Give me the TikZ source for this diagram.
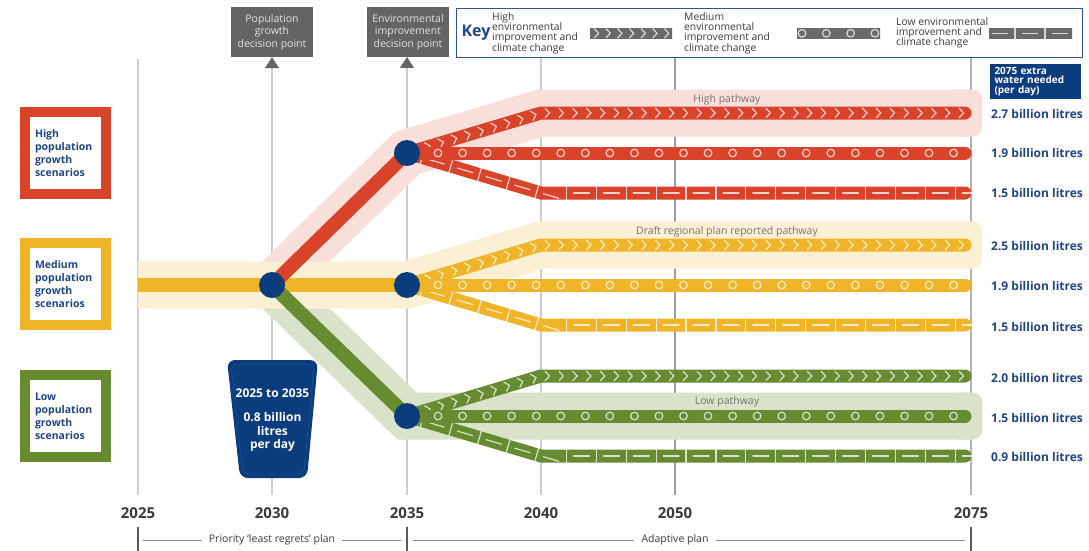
\documentclass[tikz,border=0pt]{standalone}
\usepackage{fontspec}
\setmainfont{Open Sans}
\usetikzlibrary{arrows.meta,decorations.markings,positioning}

\definecolor{popred}{HTML}{D9432A}
\definecolor{popredlt}{HTML}{F8DFDA}
\definecolor{popyel}{HTML}{F0B429}
\definecolor{popyellt}{HTML}{FBF0D4}
\definecolor{popgrn}{HTML}{668B30}
\definecolor{popgrnlt}{HTML}{D8E3C9}
\definecolor{navy}{HTML}{0B3C7E}
\definecolor{navytext}{HTML}{1F4585}
\definecolor{keyblue}{HTML}{2E5597}
\definecolor{gridgray}{HTML}{CDCDCD}
\definecolor{boxgray}{HTML}{646464}
\definecolor{boxtext}{HTML}{E2E2E2}
\definecolor{keygray}{HTML}{6A6A6A}
\definecolor{labelgray}{HTML}{3A3A3A}

\tikzset{
  grid line/.style={gridgray, line width=1.1pt},
  band/.style={line width=47pt, line join=miter},
  trunk/.style={line width=14pt},
  branch/.style={line width=13pt, line cap=round},
  mark line/.style={white, line width=1.2pt, opacity=0.75},
  chevrons/.style 2 args={postaction={decorate, decoration={markings,
      mark=between positions #1 and -3pt step #2 with
      {\draw[mark line] (-2.8pt,4.7pt) -- (1.6pt,0pt) -- (-2.8pt,-4.7pt);}}}},
  rings/.style 2 args={postaction={decorate, decoration={markings,
      mark=between positions #1 and -3pt step #2 with
      {\draw[mark line] (0pt,0pt) circle[radius=3.8pt];}}}},
  dashes/.style 2 args={postaction={decorate, decoration={markings,
      mark=between positions #1 and -3pt step #2 with
      {\draw[mark line] (0pt,-6.5pt) -- (0pt,6.5pt);
       \draw[mark line] (7pt,0pt) -- (23pt,0pt);}}}},
  hub/.style={circle, fill=navy, minimum size=26pt, inner sep=0pt},
  decision/.style={fill=boxgray, text=boxtext, minimum width=82pt,
    minimum height=50pt, align=center, inner sep=1pt,
    font=\fontsize{10.5}{12.7}\selectfont},
  scen box/.style={draw=#1, line width=10pt, fill=white, minimum width=81pt,
    minimum height=82pt, text width=61pt, inner xsep=10pt, align=left,
    text=navytext, font=\fontsize{10.5}{13}\selectfont\bfseries},
  key text/.style={anchor=west, align=left, inner sep=0pt, text=labelgray,
    font=\fontsize{10.3}{10.3}\selectfont},
  value/.style={anchor=west, inner sep=0pt, text=navytext,
    font=\fontsize{12}{12}\selectfont\bfseries},
  pathway label/.style={text=black!55, inner sep=0pt,
    font=\fontsize{10.5}{10.5}\selectfont},
  year/.style={text=labelgray, inner sep=0pt,
    font=\fontsize{15}{15}\selectfont\bfseries},
  plan/.style={text=labelgray, inner xsep=7pt,
    font=\fontsize{10.5}{10.5}\selectfont},
  plan rule/.style={black!45, line width=0.9pt},
  plan tick/.style={black!65, line width=2.2pt},
}

\begin{document}
\begin{tikzpicture}[x=1pt,y=-1pt]
  \useasboundingbox[fill=white] (0,0) rectangle (1089,551);

  % hub positions
  \coordinate (c30) at (272,285);
  \coordinate (c35h) at (407,153);
  \coordinate (c35m) at (407,285);
  \coordinate (c35l) at (407,416);

  % decision boxes and key
  \node[decision] (popbox) at (272,32) {Population\\growth\\decision point};
  \node[decision] (envbox) at (408,32) {Environmental\\improvement\\decision point};
  \node[draw=keyblue, line width=1.4pt, minimum width=626pt, minimum height=49pt,
    inner sep=0pt] (key) at (769.5,33) {};

  % grid
  \draw[grid line] (138,59) -- (138,495);
  \draw[grid line, -{Triangle[width=14pt,length=11pt,color=boxgray]}] (272,495) -- (popbox.south);
  \draw[grid line, -{Triangle[width=14pt,length=11pt,color=boxgray]}] (407,495) -- (407,57);
  \draw[grid line] (541,58) -- (541,495);
  \draw[grid line, black!38] (675,58) -- (675,495);
  \draw[grid line, black!30] (971,58) -- (971,495);

  % bands
  \draw[band, popredlt] (c30) -- (c35h) -- (541,113) -- (970,113);
  \fill[popredlt, rounded corners=9pt] (950,89.5) rectangle (982,136.5);
  \draw[band, popgrnlt] (c30) -- (c35l) -- (970,416);
  \fill[popgrnlt, rounded corners=9pt] (950,392.5) rectangle (982,439.5);
  \draw[band, popyellt] (138,285) -- (c35m) -- (541,245) -- (970,245);
  \fill[popyellt, rounded corners=9pt] (950,221.5) rectangle (982,268.5);

  \node[pathway label] (hipath) at (727,100) {High pathway};
  \node[pathway label] (draftpath) at (727,232) {Draft regional plan reported pathway};
  \node[pathway label] (lopath) at (727,402) {Low pathway};

  % trunks
  \draw[trunk, popyel] (138,285) -- (c35m);
  \draw[trunk, popred] (c30) -- (c35h);
  \draw[trunk, popgrn] (c30) -- (c35l);

  % branches
  \foreach \col/\hb in {popred/c35h, popyel/c35m, popgrn/c35l} {
    \draw[branch, \col, dashes={15.8pt}{29.9pt}]
      (\hb) -- ++(134,40) -- ([yshift=-40pt]\hb -| 965,0);
    \draw[branch, \col, chevrons={8.8pt}{13.8pt}]
      (\hb) -- ++(134,-40) -- ([yshift=40pt]\hb -| 965,0);
    \draw[branch, \col, rings={31pt}{24.55pt}] (\hb) -- (\hb -| 965,0);
  }

  % hubs
  \node[hub] (hub30) at (c30) {};
  \node[hub] (hub35h) at (c35h) {};
  \node[hub] (hub35m) at (c35m) {};
  \node[hub] (hub35l) at (c35l) {};

  % scenarios
  \node[scen box=popred] (hiscen) at (65.5,153) {High\\population\\growth\\scenarios};
  \node[scen box=popyel] (medscen) at (65.5,284) {Medium\\population\\growth\\scenarios};
  \node[scen box=popgrn] (loscen) at (65.5,416) {Low\\population\\growth\\scenarios};

  % short-term bucket
  \fill[navy, rounded corners=8pt] (227,360) -- (318,360) -- (307,478) -- (240,478) -- cycle;
  \draw[keyblue!70!navy, line width=0.6pt, rounded corners=6pt]
    (231,364) -- (314,364) -- (304,474) -- (243,474) -- cycle;
  \node[align=center, text=white, font=\fontsize{12}{13.5}\selectfont\bfseries]
    (bucket) at (272.5,420) {2025 to 2035\\[11pt]0.8 billion\\litres\\per day};

  % key
  \node[text=navytext, font=\fontsize{16}{16}\selectfont\bfseries, inner sep=0pt]
    (keyword) at (476,33) {Key};
  \node[key text] (khi) at (492,33) {High\\environmental\\improvement and\\climate change};
  \node[key text] (kmed) at (684,33) {Medium\\environmental\\improvement and\\climate change};
  \node[key text] (klo) at (896,33) {Low environmental\\improvement and\\climate change};
  \begin{scope}
    \clip (590,28) rectangle (672,38.6);
    \draw[line width=11pt, keygray, chevrons={7pt}{11.7pt}] (590,33.3) -- (676,33.3);
  \end{scope}
  \begin{scope}
    \clip (797,28) rectangle (880,38.6);
    \draw[line width=11pt, keygray, rings={5pt}{24.3pt}] (797,33.3) -- (884,33.3);
  \end{scope}
  \begin{scope}
    \clip (989,28) rectangle (1072,38.6);
    \draw[line width=11pt, keygray, dashes={0pt}{30pt}] (985,33.3) -- (1076,33.3);
  \end{scope}

  % extra water values
  \node[fill=navy, text=white, minimum width=91pt, minimum height=35pt, text width=82pt,
    inner xsep=4.5pt, align=left, font=\fontsize{10}{9.6}\selectfont\bfseries]
    (waterhead) at (1035.5,81.5) {2075 extra\\water needed\\(per day)};
  \foreach \y/\v in {114/2.7, 153/1.9, 193/1.5, 246/2.5, 286/1.9, 327/1.5,
                     378/2.0, 418/1.5, 457/0.9}
    \node[value] (val\y) at (991,\y) {\v\ billion litres};

  % time axis
  \foreach \x/\yr in {138/2025, 272/2030, 407/2035, 541/2040, 675/2050, 971/2075}
    \node[year] (yr\yr) at (\x,513) {\yr};
  \draw[plan tick] (138,527) -- (138,551);
  \draw[plan tick] (407,527) -- (407,551);
  \draw[plan tick] (971,527) -- (971,551);
  \node[plan] (least) at (272,540) {Priority `least regrets' plan};
  \node[plan] (adapt) at (675,540) {Adaptive plan};
  \draw[plan rule] (143,540) -- (least.west);
  \draw[plan rule] (least.east) -- (401,540);
  \draw[plan rule] (413,540) -- (adapt.west);
  \draw[plan rule] (adapt.east) -- (965,540);
\end{tikzpicture}
\end{document}
